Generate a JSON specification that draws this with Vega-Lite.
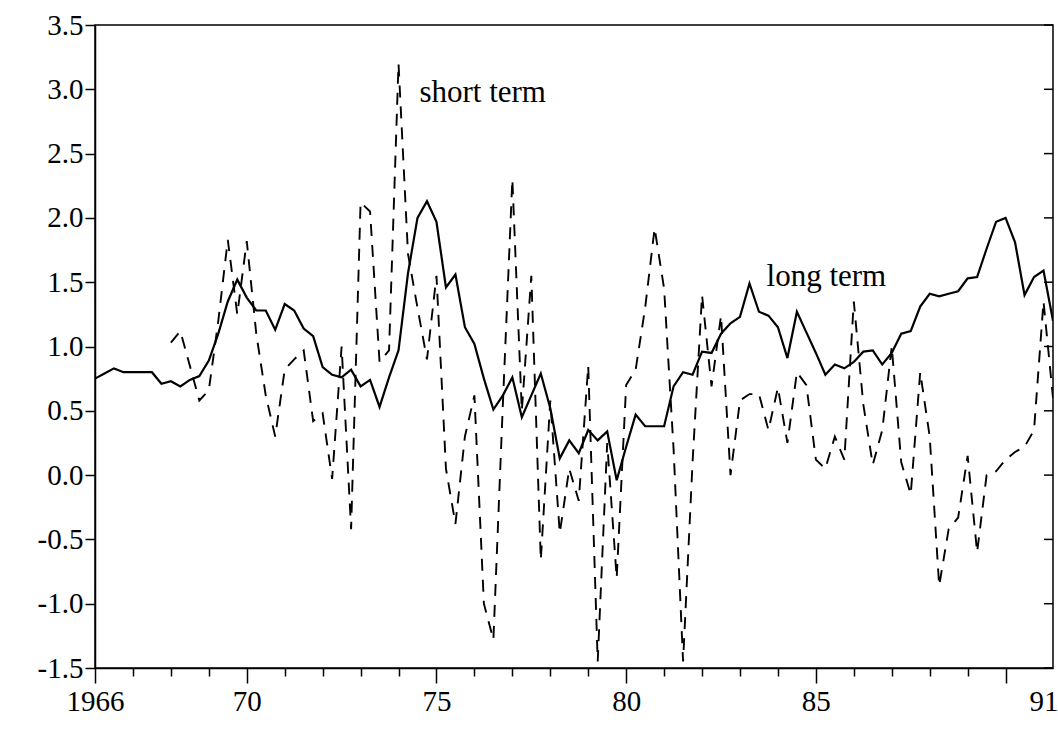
{
  "$schema": "https://vega.github.io/schema/vega-lite/v6.json",
  "width": 958,
  "height": 643,
  "autosize": "none",
  "padding": {"left": 95, "top": 25, "right": 5, "bottom": 62},
  "background": "white",
  "config": {
    "view": {"stroke": "black", "strokeWidth": 1.5},
    "font": "Liberation Serif",
    "axis": {
      "domainColor": "black",
      "domainWidth": 1.5,
      "tickColor": "black",
      "tickWidth": 1.5,
      "labelColor": "black",
      "labelFont": "Liberation Serif",
      "labelFontSize": 29,
      "grid": false,
      "title": null
    }
  },
  "datasets": {
    "long_term": [
      {"year": 1966.00, "value": 0.75}, {"year": 1966.25, "value": 0.79}, {"year": 1966.50, "value": 0.83}, {"year": 1966.75, "value": 0.80},
      {"year": 1967.00, "value": 0.80}, {"year": 1967.25, "value": 0.80}, {"year": 1967.50, "value": 0.80}, {"year": 1967.75, "value": 0.71},
      {"year": 1968.00, "value": 0.73}, {"year": 1968.25, "value": 0.69}, {"year": 1968.50, "value": 0.74}, {"year": 1968.75, "value": 0.77},
      {"year": 1969.00, "value": 0.89}, {"year": 1969.25, "value": 1.10}, {"year": 1969.50, "value": 1.35}, {"year": 1969.75, "value": 1.52},
      {"year": 1970.00, "value": 1.38}, {"year": 1970.25, "value": 1.28}, {"year": 1970.50, "value": 1.28}, {"year": 1970.75, "value": 1.13},
      {"year": 1971.00, "value": 1.33}, {"year": 1971.25, "value": 1.28}, {"year": 1971.50, "value": 1.14}, {"year": 1971.75, "value": 1.08},
      {"year": 1972.00, "value": 0.84}, {"year": 1972.25, "value": 0.78}, {"year": 1972.50, "value": 0.76}, {"year": 1972.75, "value": 0.82},
      {"year": 1973.00, "value": 0.69}, {"year": 1973.25, "value": 0.74}, {"year": 1973.50, "value": 0.53}, {"year": 1973.75, "value": 0.76},
      {"year": 1974.00, "value": 0.97}, {"year": 1974.25, "value": 1.57}, {"year": 1974.50, "value": 2.00}, {"year": 1974.75, "value": 2.13},
      {"year": 1975.00, "value": 1.97}, {"year": 1975.25, "value": 1.46}, {"year": 1975.50, "value": 1.56}, {"year": 1975.75, "value": 1.15},
      {"year": 1976.00, "value": 1.02}, {"year": 1976.25, "value": 0.75}, {"year": 1976.50, "value": 0.51}, {"year": 1976.75, "value": 0.62},
      {"year": 1977.00, "value": 0.76}, {"year": 1977.25, "value": 0.45}, {"year": 1977.50, "value": 0.62}, {"year": 1977.75, "value": 0.79},
      {"year": 1978.00, "value": 0.52}, {"year": 1978.25, "value": 0.13}, {"year": 1978.50, "value": 0.27}, {"year": 1978.75, "value": 0.17},
      {"year": 1979.00, "value": 0.35}, {"year": 1979.25, "value": 0.27}, {"year": 1979.50, "value": 0.34}, {"year": 1979.75, "value": -0.04},
      {"year": 1980.00, "value": 0.22}, {"year": 1980.25, "value": 0.47}, {"year": 1980.50, "value": 0.38}, {"year": 1980.75, "value": 0.38},
      {"year": 1981.00, "value": 0.38}, {"year": 1981.25, "value": 0.69}, {"year": 1981.50, "value": 0.80}, {"year": 1981.75, "value": 0.78},
      {"year": 1982.00, "value": 0.96}, {"year": 1982.25, "value": 0.95}, {"year": 1982.50, "value": 1.10}, {"year": 1982.75, "value": 1.18},
      {"year": 1983.00, "value": 1.23}, {"year": 1983.25, "value": 1.49}, {"year": 1983.50, "value": 1.27}, {"year": 1983.75, "value": 1.24},
      {"year": 1984.00, "value": 1.15}, {"year": 1984.25, "value": 0.91}, {"year": 1984.50, "value": 1.27}, {"year": 1984.75, "value": 1.11},
      {"year": 1985.00, "value": 0.95}, {"year": 1985.25, "value": 0.78}, {"year": 1985.50, "value": 0.86}, {"year": 1985.75, "value": 0.83},
      {"year": 1986.00, "value": 0.88}, {"year": 1986.25, "value": 0.96}, {"year": 1986.50, "value": 0.97}, {"year": 1986.75, "value": 0.86},
      {"year": 1987.00, "value": 0.95}, {"year": 1987.25, "value": 1.10}, {"year": 1987.50, "value": 1.12}, {"year": 1987.75, "value": 1.31},
      {"year": 1988.00, "value": 1.41}, {"year": 1988.25, "value": 1.39}, {"year": 1988.50, "value": 1.41}, {"year": 1988.75, "value": 1.43},
      {"year": 1989.00, "value": 1.53}, {"year": 1989.25, "value": 1.54}, {"year": 1989.50, "value": 1.76}, {"year": 1989.75, "value": 1.97},
      {"year": 1990.00, "value": 2.00}, {"year": 1990.25, "value": 1.81}, {"year": 1990.50, "value": 1.40}, {"year": 1990.75, "value": 1.54},
      {"year": 1991.00, "value": 1.59}, {"year": 1991.25, "value": 1.20}
    ],
    "short_term": [
      {"year": 1968.00, "value": 1.03}, {"year": 1968.25, "value": 1.12}, {"year": 1968.50, "value": 0.85}, {"year": 1968.75, "value": 0.58},
      {"year": 1969.00, "value": 0.66}, {"year": 1969.25, "value": 1.20}, {"year": 1969.50, "value": 1.83}, {"year": 1969.75, "value": 1.25},
      {"year": 1970.00, "value": 1.82}, {"year": 1970.25, "value": 1.10}, {"year": 1970.50, "value": 0.62}, {"year": 1970.75, "value": 0.30},
      {"year": 1971.00, "value": 0.82}, {"year": 1971.25, "value": 0.90}, {"year": 1971.50, "value": 0.97}, {"year": 1971.75, "value": 0.42},
      {"year": 1972.00, "value": 0.48}, {"year": 1972.25, "value": -0.03}, {"year": 1972.50, "value": 1.00}, {"year": 1972.75, "value": -0.42},
      {"year": 1973.00, "value": 2.12}, {"year": 1973.25, "value": 2.05}, {"year": 1973.50, "value": 0.88}, {"year": 1973.75, "value": 0.97},
      {"year": 1974.00, "value": 3.20}, {"year": 1974.25, "value": 1.72}, {"year": 1974.50, "value": 1.30}, {"year": 1974.75, "value": 0.90},
      {"year": 1975.00, "value": 1.55}, {"year": 1975.25, "value": 0.05}, {"year": 1975.50, "value": -0.38}, {"year": 1975.75, "value": 0.30},
      {"year": 1976.00, "value": 0.62}, {"year": 1976.25, "value": -1.00}, {"year": 1976.50, "value": -1.28}, {"year": 1976.75, "value": 0.55},
      {"year": 1977.00, "value": 2.30}, {"year": 1977.25, "value": 0.50}, {"year": 1977.50, "value": 1.55}, {"year": 1977.75, "value": -0.66},
      {"year": 1978.00, "value": 0.58}, {"year": 1978.25, "value": -0.45}, {"year": 1978.50, "value": 0.05}, {"year": 1978.75, "value": -0.20},
      {"year": 1979.00, "value": 0.85}, {"year": 1979.25, "value": -1.45}, {"year": 1979.50, "value": 0.25}, {"year": 1979.75, "value": -0.80},
      {"year": 1980.00, "value": 0.70}, {"year": 1980.25, "value": 0.82}, {"year": 1980.50, "value": 1.30}, {"year": 1980.75, "value": 1.92},
      {"year": 1981.00, "value": 1.45}, {"year": 1981.25, "value": 0.20}, {"year": 1981.50, "value": -1.45}, {"year": 1981.75, "value": 0.10},
      {"year": 1982.00, "value": 1.40}, {"year": 1982.25, "value": 0.69}, {"year": 1982.50, "value": 1.24}, {"year": 1982.75, "value": 0.00},
      {"year": 1983.00, "value": 0.58}, {"year": 1983.25, "value": 0.63}, {"year": 1983.50, "value": 0.63}, {"year": 1983.75, "value": 0.35},
      {"year": 1984.00, "value": 0.68}, {"year": 1984.25, "value": 0.25}, {"year": 1984.50, "value": 0.80}, {"year": 1984.75, "value": 0.70},
      {"year": 1985.00, "value": 0.12}, {"year": 1985.25, "value": 0.05}, {"year": 1985.50, "value": 0.30}, {"year": 1985.75, "value": 0.12},
      {"year": 1986.00, "value": 1.35}, {"year": 1986.25, "value": 0.55}, {"year": 1986.50, "value": 0.08}, {"year": 1986.75, "value": 0.35},
      {"year": 1987.00, "value": 1.00}, {"year": 1987.25, "value": 0.10}, {"year": 1987.50, "value": -0.15}, {"year": 1987.75, "value": 0.80},
      {"year": 1988.00, "value": 0.30}, {"year": 1988.25, "value": -0.86}, {"year": 1988.50, "value": -0.42}, {"year": 1988.75, "value": -0.33},
      {"year": 1989.00, "value": 0.15}, {"year": 1989.25, "value": -0.60}, {"year": 1989.50, "value": 0.00}, {"year": 1989.75, "value": 0.03},
      {"year": 1990.00, "value": 0.12}, {"year": 1990.25, "value": 0.18}, {"year": 1990.50, "value": 0.22}, {"year": 1990.75, "value": 0.35},
      {"year": 1991.00, "value": 1.35}, {"year": 1991.25, "value": 0.60}
    ],
    "right_ticks": [
      {"value": -1.5}, {"value": -1.0}, {"value": -0.5}, {"value": 0.0}, {"value": 0.5}, {"value": 1.0},
      {"value": 1.5}, {"value": 2.0}, {"value": 2.5}, {"value": 3.0}, {"value": 3.5}
    ],
    "labels": [
      {"year": 1974.55, "value": 2.97, "text": "short term"},
      {"year": 1983.7, "value": 1.54, "text": "long term"}
    ]
  },
  "resolve": {"axis": {"x": "independent", "y": "independent"}},
  "layer": [
    {
      "data": {"name": "short_term"},
      "mark": {"type": "line", "color": "black", "strokeWidth": 1.9, "strokeDash": [12, 9], "clip": true},
      "encoding": {
        "x": {
          "field": "year", "type": "quantitative",
          "scale": {"domain": [1966, 1991.25], "nice": false, "zero": false},
          "axis": {
            "orient": "bottom",
            "values": [1966, 1967, 1968, 1969, 1970, 1971, 1972, 1973, 1974, 1975, 1976, 1977, 1978, 1979, 1980, 1981, 1982, 1983, 1984, 1985, 1986, 1987, 1988, 1989, 1990, 1991],
            "tickSize": {"condition": {"test": "datum.value == 1966 || datum.value == 1991 || datum.value % 5 == 0", "value": 15}, "value": 8},
            "tickOpacity": {"condition": {"test": "datum.value == 1991", "value": 0}, "value": 1},
            "labelExpr": "datum.value == 1966 ? '1966' : (datum.value == 1991 ? '91' : (datum.value % 5 == 0 && datum.value != 1990 ? format(datum.value % 100, '02d') : ''))",
            "labelPadding": 4,
            "labelFlush": false,
            "labelOverlap": false
          }
        },
        "y": {
          "field": "value", "type": "quantitative",
          "scale": {"domain": [-1.5, 3.5], "nice": false, "zero": false},
          "axis": {
            "orient": "left",
            "values": [-1.5, -1, -0.5, 0, 0.5, 1, 1.5, 2, 2.5, 3, 3.5],
            "labelExpr": "replace(format(datum.value, '.1f'), '\u2212', '-')",
            "tickSize": 10,
            "labelPadding": 2,
            "labelFlush": false,
            "labelOverlap": false
          }
        }
      }
    },
    {
      "data": {"name": "long_term"},
      "mark": {"type": "line", "color": "black", "strokeWidth": 2.2, "clip": true},
      "encoding": {
        "x": {"field": "year", "type": "quantitative", "axis": null},
        "y": {"field": "value", "type": "quantitative", "axis": null}
      }
    },
    {
      "mark": {"type": "rule", "color": "black", "strokeWidth": 1.5},
      "encoding": {
        "y": {"datum": 0, "type": "quantitative", "axis": null}
      }
    },
    {
      "data": {"name": "right_ticks"},
      "mark": {"type": "tick", "orient": "horizontal", "color": "black", "size": 9, "thickness": 1.5, "xOffset": -4.5, "opacity": 1},
      "encoding": {
        "x": {"datum": 1991.25, "type": "quantitative", "axis": null},
        "y": {"field": "value", "type": "quantitative", "axis": null}
      }
    },
    {
      "data": {"name": "labels"},
      "mark": {"type": "text", "align": "left", "baseline": "middle", "font": "Liberation Serif", "fontSize": 31, "color": "black"},
      "encoding": {
        "x": {"field": "year", "type": "quantitative", "axis": null},
        "y": {"field": "value", "type": "quantitative", "axis": null},
        "text": {"field": "text"}
      }
    }
  ]
}
